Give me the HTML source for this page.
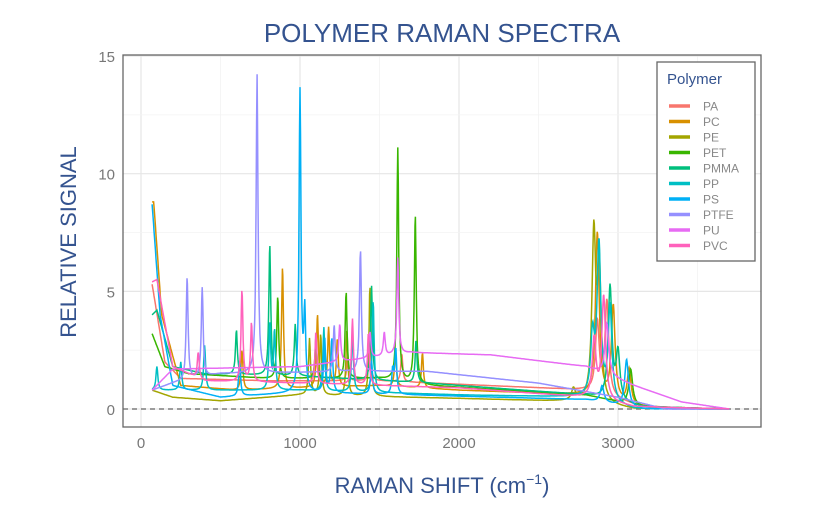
<!DOCTYPE html>
<html><head><meta charset="utf-8"><style>
body{margin:0;background:#fff;width:829px;height:515px;overflow:hidden;font-family:"Liberation Sans",sans-serif}
svg text{font-family:"Liberation Sans",sans-serif}
</style></head><body>
<svg id="chart" width="829" height="515" viewBox="0 0 829 515" xmlns="http://www.w3.org/2000/svg">
<text x="442" y="42" text-anchor="middle" font-size="26" fill="#34538f">POLYMER RAMAN SPECTRA</text>
<text x="442" y="493" text-anchor="middle" font-size="22" fill="#34538f">RAMAN SHIFT (cm<tspan dy="-9" font-size="14">−1</tspan><tspan dy="9">)</tspan></text>
<text transform="translate(76,242) rotate(-90)" text-anchor="middle" font-size="22" fill="#34538f">RELATIVE SIGNAL</text>
<g id="grid"></g>
<g id="series"></g>
<rect x="123" y="55" width="638" height="372" fill="none" stroke="#666" stroke-width="1.3"/>
<g id="ticks"></g>
<g>
<rect x="657" y="62" width="98" height="199" fill="#fff" stroke="#666" stroke-width="1.3"/>
<text x="667" y="84" font-size="15" fill="#34538f">Polymer</text>
<g id="legend-items"></g>
</g>
</svg>
<script>
const NS="http://www.w3.org/2000/svg";
const polymers=["PA","PC","PE","PET","PMMA","PP","PS","PTFE","PU","PVC"];
const colors=["#F8766D","#D89000","#A3A500","#39B600","#00BF7D","#00BFC4","#00B0F6","#9590FF","#E76BF3","#FF62BC"];
const xTicks=[0,1000,2000,3000];
const yTicks=[0,5,10,15];
// baselines: [shift, signal] knots; peaks: [shift, amplitude above baseline]
const basePA=[[70,5.3],[150,2],[250,1.3],[800,1.2],[1500,1.2],[2500,0.9],[2800,0.8],[3100,0.2],[3300,0],[3700,0]];
const peakPA=[[1440,1.8],[1640,1.2],[2870,3],[2930,4],[1300,1]];
const basePC=[[80,8.8],[130,4],[250,1],[600,0.8],[1500,1],[2000,0.8],[2800,0.6],[3100,0.1],[3700,0]];
const peakPC=[[635,1.7],[890,5.2],[1110,3.1],[1180,2.5],[1235,2],[1600,1.5],[1770,1.5],[2870,7],[2970,4],[3070,1.5]];
const basePE=[[70,0.8],[200,0.5],[500,0.35],[1000,0.6],[2000,0.45],[2800,0.3],[3100,0],[3700,0]];
const peakPE=[[1060,2.4],[1130,2.6],[1295,2.8],[1440,4.7],[2848,7],[2882,5.5],[2720,0.5]];
const basePET=[[70,3.2],[150,1.8],[300,1.5],[800,1.3],[1500,1.3],[1800,1],[2800,0.6],[3150,0.1],[3700,0]];
const peakPET=[[860,3.5],[1100,1.7],[1290,3.7],[1615,9.9],[1725,7.2],[3080,1.5]];
const basePMMA=[[70,4],[100,4.2],[200,1.8],[400,1.5],[1000,1.4],[1800,1.1],[2800,0.6],[3150,0.1],[3700,0]];
const peakPMMA=[[600,1.9],[810,5.6],[970,2.2],[1450,4],[1730,1.8],[2950,4.8],[3000,2]];
const basePP=[[70,0.8],[300,0.8],[1000,0.8],[2000,0.6],[2800,0.5],[3100,0],[3700,0]];
const peakPP=[[100,1],[250,1.2],[400,1.9],[810,2.8],[840,2.5],[1150,2.7],[1330,2.5],[1460,3.9],[2840,2.5],[2880,6.5],[2950,4]];
const basePS=[[70,8.7],[120,4],[200,1],[500,0.5],[1000,0.7],[1700,0.6],[2800,0.4],[3150,0],[3700,0]];
const peakPS=[[620,1.5],[1000,12.8],[1030,3.3],[1155,2.3],[1200,2.3],[1450,1.4],[1583,1],[1602,1.9],[2900,0.7],[3054,2]];
const basePTFE=[[70,0.8],[200,1.1],[500,1.5],[1400,1.6],[1800,1.6],[2500,1.1],[3000,0.5],[3300,0],[3700,0]];
const peakPTFE=[[290,4.4],[385,3.8],[730,12.7],[1215,2],[1380,5.2]];
const basePU=[[70,0.8],[200,1.7],[1000,1.8],[1700,2.4],[2200,2.3],[2800,1.8],[3100,1],[3400,0.3],[3700,0]];
const peakPU=[[1250,1.6],[1440,1.1],[1530,1],[1615,4.1],[2930,2.2]];
const basePVC=[[70,5.4],[100,5.5],[200,1.8],[400,1.2],[1000,1.1],[2000,0.9],[2800,0.5],[3100,0.1],[3700,0]];
const peakPVC=[[360,1.1],[635,3.9],[695,2.5],[1100,2.2],[1330,2.8],[1430,2.2],[2850,2.5],[2910,4.4]];
const bases=[basePA,basePC,basePE,basePET,basePMMA,basePP,basePS,basePTFE,basePU,basePVC];
const peaks=[peakPA,peakPC,peakPE,peakPET,peakPMMA,peakPP,peakPS,peakPTFE,peakPU,peakPVC];

const X0=141,KX=0.159,Y0=409,KY=23.53;
const sx=v=>X0+v*KX, sy=v=>Y0-v*KY;
function el(t,a,p){const e=document.createElementNS(NS,t);for(const k in a)e.setAttribute(k,a[k]);p.appendChild(e);return e;}
const grid=document.getElementById('grid');
for(let v=0;v<=3500;v+=500){const l=el('line',{x1:sx(v),x2:sx(v),y1:55,y2:427,stroke:v%1000?'#f3f3f3':'#e6e6e6','stroke-width':v%1000?0.8:1.2},grid);

}
for(let v=0;v<=15;v+=2.5){const l=el('line',{x1:123,x2:761,y1:sy(v),y2:sy(v),stroke:v%5?'#f3f3f3':'#e6e6e6','stroke-width':v%5?0.8:1.2},grid);

}
const z=el('line',{x1:123,x2:761,y1:sy(0),y2:sy(0),stroke:'#666','stroke-dasharray':'5,4','stroke-width':1.2},grid);


const tk=document.getElementById('ticks');
xTicks.forEach(v=>{const t=el('text',{x:sx(v),y:448,'text-anchor':'middle','font-size':15,fill:'#777'},tk);t.textContent=v;

});
yTicks.forEach(v=>{const t=el('text',{x:115,y:sy(v)+6,'text-anchor':'end','font-size':15,fill:'#777'},tk);t.textContent=v;

});
function interp(b,x){if(x<=b[0][0])return b[0][1];for(let i=1;i<b.length;i++){if(x<=b[i][0]){const f=(x-b[i-1][0])/(b[i][0]-b[i-1][0]);return b[i-1][1]+f*(b[i][1]-b[i-1][1]);}}return b[b.length-1][1];}
const sg=document.getElementById('series');
polymers.forEach((name,i)=>{let d='';
for(let x=70;x<=3700;x+=3){let y=interp(bases[i],x);peaks[i].forEach(p=>{const w=p[0]>2600?14:7;y+=p[1]/(1+((x-p[0])/w)**2);});
d+=(d?'L':'M')+sx(x).toFixed(1)+','+sy(y).toFixed(1);}
const p=el('path',{d:d,fill:'none',stroke:colors[i],'stroke-width':1.5},sg);

});
const li=document.getElementById('legend-items');
polymers.forEach((name,i)=>{const y=106+i*15.5;
const l=el('line',{x1:669,x2:690,y1:y,y2:y,stroke:colors[i],'stroke-width':3.5},li);


const t=el('text',{x:703,y:y+4.5,'font-size':12,fill:'#888'},li);t.textContent=name;

});
</script>
</body></html>
